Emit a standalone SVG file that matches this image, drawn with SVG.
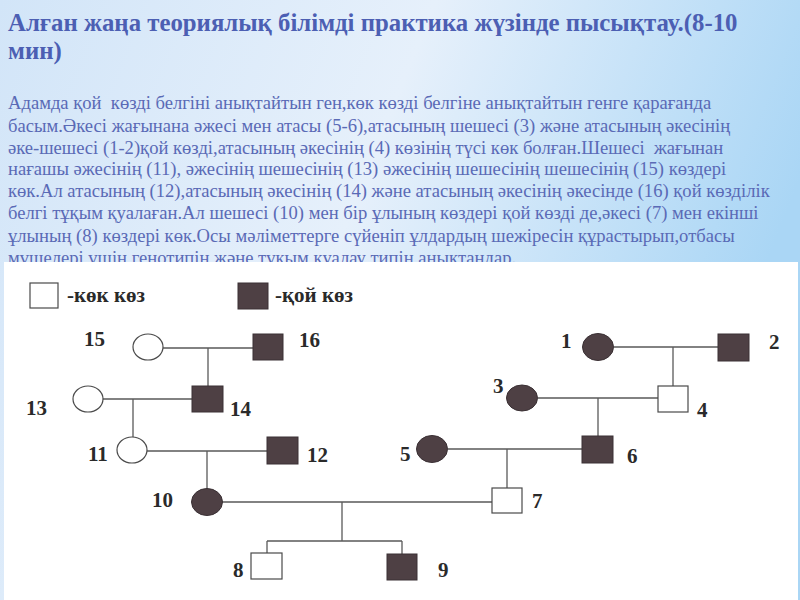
<svg xmlns="http://www.w3.org/2000/svg" width="800" height="600" viewBox="0 0 800 600">
<defs>
<linearGradient id="bg" x1="0" y1="0" x2="1" y2="0.3">
<stop offset="0" stop-color="#d2e5f8"/>
<stop offset="0.5" stop-color="#e6f0fb"/>
<stop offset="1" stop-color="#aad6f5"/>
</linearGradient>
</defs>
<style>
.title{font-family:"Liberation Serif",serif;font-weight:bold;font-size:24.8px;fill:#4c5fb3}
.body{font-family:"Liberation Serif",serif;font-size:18.6px;fill:#5a6ab6;white-space:pre}
.lab{font-family:"Liberation Serif",serif;font-weight:bold;font-size:21px;fill:#2a2a2a}
.open{fill:#fff;stroke:#4a4a4a;stroke-width:1.2}
.fill{fill:#4e4044;stroke:#3a3034;stroke-width:1}
.ln{stroke:#5a5a5a;stroke-width:1.3;fill:none}
</style>
<rect x="0" y="0" width="800" height="600" fill="url(#bg)"/>
<g id="heading">
<text class="title" x="8" y="31">Алған жаңа теориялық білімді практика жүзінде пысықтау.(8-10</text>
<text class="title" x="8" y="59">мин)</text>
</g>
<g id="task">
<text class="body" x="8" y="109">Адамда қой  көзді белгіні анықтайтын ген,көк көзді белгіне анықтайтын генге қарағанда</text>
<text class="body" x="8" y="132">басым.Әкесі жағынана әжесі мен атасы (5-6),атасының шешесі (3) және атасының әкесінің</text>
<text class="body" x="8" y="154">әке-шешесі (1-2)қой көзді,атасының әкесінің (4) көзінің түсі көк болған.Шешесі  жағынан</text>
<text class="body" x="8" y="175">нағашы әжесінің (11), әжесінің шешесінің (13) әжесінің шешесінің шешесінің (15) көздері</text>
<text class="body" x="8" y="197">көк.Ал атасының (12),атасының әкесінің (14) және атасының әкесінің әкесінде (16) қой көзділік</text>
<text class="body" x="8" y="219">белгі тұқым қуалаған.Ал шешесі (10) мен бір ұлының көздері қой көзді де,әкесі (7) мен екінші</text>
<text class="body" x="8" y="242">ұлының (8) көздері көк.Осы мәліметтерге сүйеніп ұлдардың шежіресін құрастырып,отбасы</text>
<text class="body" x="8" y="264">мүшелері үшін генотипін және тұқым қуалау типін анықтаңдар.</text>
</g>
<rect x="4" y="262" width="794" height="338" fill="#ffffff"/>
<g id="legend">
<rect class="open" x="30" y="283" width="28" height="25"/>
<text class="lab" x="67" y="302">-көк көз</text>
<rect class="fill" x="238" y="283" width="30" height="26"/>
<text class="lab" x="275" y="302">-қой көз</text>
</g>
<g id="connectors">
<path class="ln" d="M163,348 H253 M208,348 V386"/>
<path class="ln" d="M103,399 H192 M133,399 V437"/>
<path class="ln" d="M147,451 H267 M207,451 V489"/>
<path class="ln" d="M222,502 H492 M342,502 V541 M267,541 H402 M267,541 V553 M402,541 V554"/>
<path class="ln" d="M614,347 H718 M673,347 V386"/>
<path class="ln" d="M538,398 H658 M598,398 V436"/>
<path class="ln" d="M448,449 H582 M507,449 V488"/>
</g>
<g id="n15"><ellipse class="open" cx="148" cy="347" rx="15" ry="13"/><text class="lab" x="84" y="346">15</text></g>
<g id="n16"><rect class="fill" x="253" y="334" width="30" height="26"/><text class="lab" x="299" y="347">16</text></g>
<g id="n13"><ellipse class="open" cx="88" cy="399" rx="15" ry="13"/><text class="lab" x="26" y="415">13</text></g>
<g id="n14"><rect class="fill" x="192" y="386" width="31" height="26"/><text class="lab" x="230" y="416">14</text></g>
<g id="n11"><ellipse class="open" cx="132" cy="450" rx="15" ry="13"/><text class="lab" x="88" y="461">11</text></g>
<g id="n12"><rect class="fill" x="267" y="437" width="31" height="27"/><text class="lab" x="307" y="462">12</text></g>
<g id="n10"><ellipse class="fill" cx="207" cy="502" rx="15.5" ry="13.5"/><text class="lab" x="152" y="507">10</text></g>
<g id="n7"><rect class="open" x="492" y="488" width="30" height="25"/><text class="lab" x="532" y="508">7</text></g>
<g id="n8"><rect class="open" x="251" y="553" width="31" height="26"/><text class="lab" x="233" y="577">8</text></g>
<g id="n9"><rect class="fill" x="387" y="554" width="30" height="26"/><text class="lab" x="438" y="577">9</text></g>
<g id="n5"><ellipse class="fill" cx="432" cy="449" rx="15.5" ry="13.5"/><text class="lab" x="400" y="461">5</text></g>
<g id="n6"><rect class="fill" x="582" y="436" width="31" height="27"/><text class="lab" x="627" y="463">6</text></g>
<g id="n1"><ellipse class="fill" cx="598" cy="347" rx="15.5" ry="13.5"/><text class="lab" x="561" y="348">1</text></g>
<g id="n2"><rect class="fill" x="718" y="334" width="31" height="27"/><text class="lab" x="769" y="349">2</text></g>
<g id="n3"><ellipse class="fill" cx="522" cy="398" rx="15.5" ry="13"/><text class="lab" x="493" y="393">3</text></g>
<g id="n4"><rect class="open" x="658" y="386" width="30" height="26"/><text class="lab" x="697" y="417">4</text></g>
</svg>
